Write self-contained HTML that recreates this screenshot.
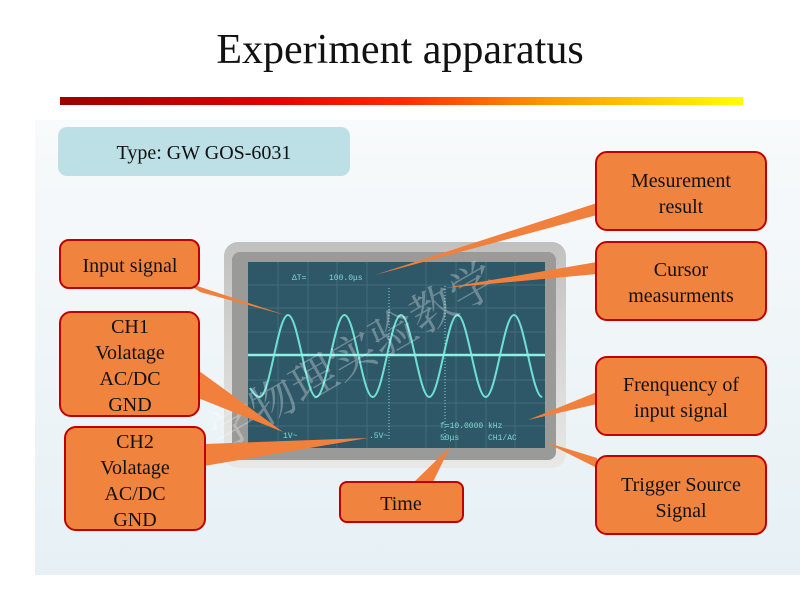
<!DOCTYPE html>
<html><head><meta charset="utf-8"><style>
html,body{margin:0;padding:0;background:#fff;}
svg{display:block}
text{font-family:"Liberation Serif",serif;fill:#111}
</style></head><body>
<svg width="800" height="600" viewBox="0 0 800 600" xmlns="http://www.w3.org/2000/svg">
<defs>
<linearGradient id="bar" x1="0" x2="1" y1="0" y2="0">
<stop offset="0" stop-color="#9c0000"/><stop offset="0.3" stop-color="#e00000"/><stop offset="0.5" stop-color="#ff2a00"/><stop offset="0.72" stop-color="#ff9a00"/><stop offset="1" stop-color="#ffff00"/></linearGradient>
<linearGradient id="bg" x1="0" x2="0" y1="0" y2="1"><stop offset="0" stop-color="#f8fafb"/><stop offset="1" stop-color="#e6f0f5"/></linearGradient>
<linearGradient id="bez" x1="0" x2="0" y1="0" y2="1"><stop offset="0" stop-color="#c0c0be"/><stop offset="0.5" stop-color="#d6d6d4"/><stop offset="1" stop-color="#e8e8e6"/></linearGradient>
</defs>
<rect x="35" y="120" width="765" height="455" fill="url(#bg)"/>
<text x="400" y="63" font-size="42" text-anchor="middle">Experiment apparatus</text>
<rect x="60" y="97" width="683" height="8" fill="url(#bar)"/>
<rect x="58" y="127" width="292" height="49" rx="9" fill="#bde0e6"/>
<text x="204" y="159" font-size="20" text-anchor="middle">Type: GW GOS-6031</text>

<!-- oscilloscope -->
<rect x="224" y="242" width="342" height="226" rx="14" fill="url(#bez)"/>
<rect x="232" y="252" width="324" height="208" rx="8" fill="#9a9a99"/>
<rect x="248" y="262" width="297" height="186" fill="#2e5868"/>
<g stroke="#3f6c7a" stroke-width="1">
<line x1="248" y1="285" x2="545" y2="285"/><line x1="248" y1="308" x2="545" y2="308"/><line x1="248" y1="332" x2="545" y2="332"/><line x1="248" y1="380" x2="545" y2="380"/><line x1="248" y1="403" x2="545" y2="403"/><line x1="248" y1="426" x2="545" y2="426"/>
<line x1="278" y1="262" x2="278" y2="448"/><line x1="308" y1="262" x2="308" y2="448"/><line x1="337" y1="262" x2="337" y2="448"/><line x1="367" y1="262" x2="367" y2="448"/><line x1="426" y1="262" x2="426" y2="448"/><line x1="456" y1="262" x2="456" y2="448"/><line x1="486" y1="262" x2="486" y2="448"/><line x1="515" y1="262" x2="515" y2="448"/>
</g>
<line x1="389" y1="288" x2="389" y2="440" stroke="#7fd8d0" stroke-width="1" stroke-dasharray="1,2"/>
<line x1="445" y1="286" x2="445" y2="440" stroke="#7fd8d0" stroke-width="1" stroke-dasharray="1,2"/>
<path d="M250,388 C253,393 256,397 259.75,397 C269.95,397 277.8,315 288,315 S306.05,397 316.25,397 S334.3,315 344.5,315 S362.55,397 372.75,397 S390.8,315 401,315 S419.05,397 429.25,397 S447.3,315 457.5,315 S475.55,397 485.75,397 S503.8,315 514,315 S532.05,397 542.25,397" fill="none" stroke="#6fe0d4" stroke-width="2"/>
<line x1="248" y1="355" x2="545" y2="355" stroke="#8ff0e4" stroke-width="2.5"/>
<g>
<text x="292" y="280" style="fill:#7fd8d0;font-family:'Liberation Mono',monospace;font-size:8px">ΔT=</text>
<text x="329" y="280" style="fill:#7fd8d0;font-family:'Liberation Mono',monospace;font-size:8px">100.0μs</text>
<text x="283" y="438" style="fill:#7fd8d0;font-family:'Liberation Mono',monospace;font-size:8px">1V~</text>
<text x="369" y="438" style="fill:#7fd8d0;font-family:'Liberation Mono',monospace;font-size:8px">.5V~</text>
<text x="440" y="428" style="fill:#7fd8d0;font-family:'Liberation Mono',monospace;font-size:8px">f=10.0000 kHz</text>
<text x="440" y="440" style="fill:#7fd8d0;font-family:'Liberation Mono',monospace;font-size:8px">50μs</text>
<text x="488" y="440" style="fill:#7fd8d0;font-family:'Liberation Mono',monospace;font-size:8px">CH1/AC</text>
</g>
<text x="222" y="450" transform="rotate(-30 222 450)" style="font-family:'Noto Serif CJK SC','Noto Sans CJK SC',serif;font-size:46px;fill:#fff;fill-opacity:0.3">学物理实验教学</text>

<!-- wedges -->
<g fill="#f0803c">
<polygon points="185,282 200,292 285,315"/>
<polygon points="597,203 597,215 375,275"/>
<polygon points="597,262 597,274 445,288"/>
<polygon points="195,368 198,398 283,432"/>
<polygon points="204,444 204,466 368,438"/>
<polygon points="412,484 432,484 450,447"/>
<polygon points="597,392 597,404 528,420"/>
<polygon points="597,458 597,468 545,442"/>
</g>

<!-- boxes -->
<g fill="#f0843e" stroke="#c00000" stroke-width="2">
<rect x="60" y="240" width="139" height="48" rx="9"/>
<rect x="60" y="312" width="139" height="104" rx="11"/>
<rect x="65" y="427" width="140" height="103" rx="11"/>
<rect x="340" y="482" width="123" height="40" rx="7"/>
<rect x="596" y="152" width="170" height="78" rx="11"/>
<rect x="596" y="242" width="170" height="78" rx="11"/>
<rect x="596" y="357" width="170" height="78" rx="11"/>
<rect x="596" y="456" width="170" height="78" rx="11"/>
</g>
<g font-size="20" text-anchor="middle">
<text x="130" y="272">Input signal</text>
<text x="130" y="333">CH1</text><text x="130" y="359">Volatage</text><text x="130" y="385">AC/DC</text><text x="130" y="411">GND</text>
<text x="135" y="448">CH2</text><text x="135" y="474">Volatage</text><text x="135" y="500">AC/DC</text><text x="135" y="526">GND</text>
<text x="401" y="510">Time</text>
<text x="681" y="187">Mesurement</text><text x="681" y="213">result</text>
<text x="681" y="276">Cursor</text><text x="681" y="302">measurments</text>
<text x="681" y="391">Frenquency of</text><text x="681" y="417">input signal</text>
<text x="681" y="491">Trigger Source</text><text x="681" y="517">Signal</text>
</g>
</svg>
</body></html>
